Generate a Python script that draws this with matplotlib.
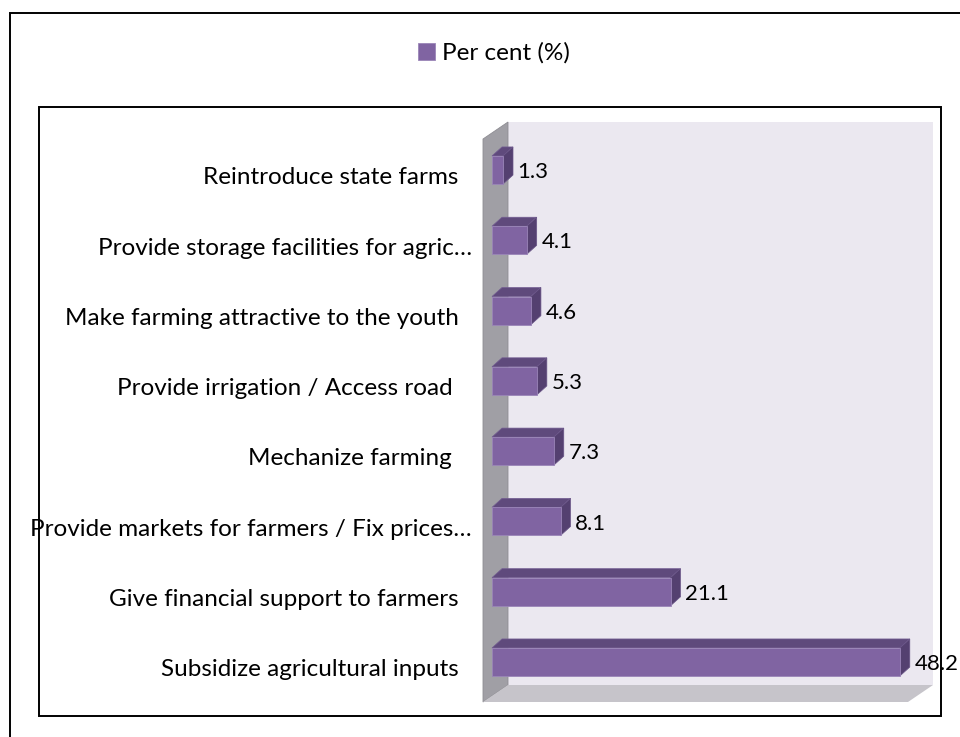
import matplotlib
matplotlib.use("Agg")
import matplotlib.pyplot as plt
from matplotlib.patches import Polygon, Rectangle
import numpy as np

plt.rcParams['font.family'] = ['Lato', 'DejaVu Sans']

# Survey responses, bottom to top
categories = [
    "Subsidize agricultural inputs",
    "Give financial support to farmers",
    "Provide markets for farmers / Fix prices…",
    "Mechanize farming ",
    "Provide irrigation / Access road ",
    "Make farming attractive to the youth",
    "Provide storage facilities for agric…",
    "Reintroduce state farms",
]
percent = [48.2, 21.1, 8.1, 7.3, 5.3, 4.6, 4.1, 1.3]
series_name = "Per cent (%)"

W, H, DPI = 960, 737, 100
fig = plt.figure(figsize=(W / DPI, H / DPI), dpi=DPI)

def fx(px):
    return px / W

def fy(py):
    return 1 - py / H

# front face of the 3-D plot box (pixels)
box_l, box_r, box_t, box_b = 483, 908, 139, 702
ax = fig.add_axes([fx(box_l), fy(box_b), fx(box_r - box_l), (box_b - box_t) / H])
XMIN = -1.064
ax.set_xlim(XMIN, 49.17)
ax.set_ylim(-0.569, 7.441)
ax.axis("off")

# depth of the box and of each bar, in pixels (x right, y up)
box_depth = np.array([25.0, 17.0])
bar_depth = np.array([10.0, 9.0])

bw = (box_r - box_l)
bh = (box_b - box_t)
dax = box_depth / np.array([bw, bh])

def axpoly(pts, **kw):
    p = Polygon(pts, closed=True, transform=ax.transAxes, clip_on=False, **kw)
    ax.add_patch(p)

# back wall, side wall, floor
axpoly([(0, 0) + dax, (1, 0) + dax, (1, 1) + dax, (0, 1) + dax],
       facecolor="#ebe8f0", edgecolor="none", zorder=0)
axpoly([(0, 0), (0, 1), (0, 1) + dax, (0, 0) + dax],
       facecolor="#a09fa5", edgecolor="#8e8d93", linewidth=0.6, zorder=1)
axpoly([(0, 0), (1, 0), (1, 0) + dax, (0, 0) + dax],
       facecolor="#c6c4ca", edgecolor="none", zorder=1)

# pixel offset expressed in data units
fig.canvas.draw()
origin = ax.transData.transform((0, 0))
ddx, ddy = ax.transData.inverted().transform(origin + bar_depth)

y = np.arange(len(categories))
bar_h = 0.40
front = "#8064a2"
top_c = "#5f4a7c"
side_c = "#544070"

bars = ax.barh(y, percent, height=bar_h, color=front, edgecolor="#9a85b8",
               linewidth=0.6, zorder=4, label=series_name)

for yi, v in zip(y, percent):
    t = yi + bar_h / 2
    b = yi - bar_h / 2
    ax.add_patch(Polygon([(0, t), (v, t), (v + ddx, t + ddy), (ddx, t + ddy)],
                         closed=True, facecolor=top_c, edgecolor="#735d92",
                         linewidth=0.5, zorder=3, clip_on=False))
    ax.add_patch(Polygon([(v, b), (v, t), (v + ddx, t + ddy), (v + ddx, b + ddy)],
                         closed=True, facecolor=side_c, edgecolor="#6a5588",
                         linewidth=0.5, zorder=3, clip_on=False))
    ax.text(v + ddx + 0.55, yi - 0.03, f"{v}", ha="left", va="center",
            fontsize=16, color="#000000", zorder=6, clip_on=False)

# category labels to the left of the side wall
for yi, lab in zip(y, categories):
    xr = XMIN - 2.9
    if lab.endswith("…"):
        xr += 1.6
    text = lab.rstrip() + ("\u00a0" if lab.endswith(" ") else "")
    ax.text(xr, yi - 0.11, text, ha="right", va="center",
            fontsize=17.5, color="#000000", clip_on=False)

# legend above the plot
fig.legend(handles=[bars], labels=[series_name], loc="center",
           bbox_to_anchor=(fx(494), fy(53)), frameon=False, fontsize=17.5,
           handlelength=0.7, handleheight=0.7, handletextpad=0.3)

# chart frames
fig.add_artist(Rectangle((fx(39), fy(716)), fx(941 - 39), (716 - 107) / H,
                         transform=fig.transFigure, fill=False,
                         edgecolor="#000000", linewidth=1.4))
fig.add_artist(Rectangle((fx(10), fy(760)), fx(1000), (760 - 13) / H,
                         transform=fig.transFigure, fill=False,
                         edgecolor="#000000", linewidth=1.4))

fig.savefig("out.png", dpi=DPI)
